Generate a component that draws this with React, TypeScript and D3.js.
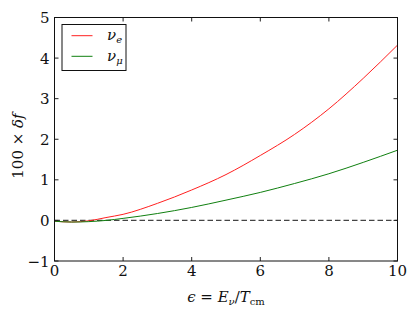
import React from "react";
import * as d3 from "d3";

const xTicks = [0, 2, 4, 6, 8, 10];
const yTicks = [-1, 0, 1, 2, 3, 4, 5];
const eps = [0, 0.5, 1, 1.5, 2, 3, 4, 5, 6, 7, 8, 9, 10];
const nuE = [-0.02, -0.04, -0.01, 0.07, 0.15, 0.42, 0.75, 1.13, 1.6, 2.12, 2.75, 3.5, 4.32];
const nuMu = [-0.02, -0.04, -0.03, 0.0, 0.05, 0.17, 0.32, 0.5, 0.69, 0.91, 1.15, 1.43, 1.73];

const W = 415, H = 312;
const L = 54.5, R = 397.5, T = 17.5, B = 261;
const ff = { fontFamily: "'DejaVu Serif'" };

export default function App() {
  const x = d3.scaleLinear().domain([0, 10]).range([L, R]);
  const y = d3.scaleLinear().domain([-1, 5]).range([B, T]);
  const line = d3.line<number>().x((_, i) => x(eps[i])).y((d) => y(d)).curve(d3.curveMonotoneX);
  return (
    <svg width={W} height={H} style={{ position: "absolute", left: 0, top: 0 }}>
      <rect x={0} y={0} width={W} height={H} fill="white" />
      <line x1={x(0)} x2={x(10)} y1={y(0)} y2={y(0)} stroke="#444" strokeWidth={1.4} strokeDasharray="5.5,3" />
      <path d={line(nuE) || ""} fill="none" stroke="#ff2020" strokeWidth={1} />
      <path d={line(nuMu) || ""} fill="none" stroke="#108010" strokeWidth={1} />
      {xTicks.map((t) => (
        <g key={"x" + t}>
          <line x1={x(t)} x2={x(t)} y1={B} y2={B - 4} stroke="#222" />
          <line x1={x(t)} x2={x(t)} y1={T} y2={T + 4} stroke="#222" />
          <text x={x(t)} y={276} textAnchor="middle" style={ff} fontSize={15} fill="#111">{t}</text>
        </g>
      ))}
      {yTicks.map((t) => (
        <g key={"y" + t}>
          <line x1={L} x2={L + 4} y1={y(t)} y2={y(t)} stroke="#222" />
          <line x1={R} x2={R - 4} y1={y(t)} y2={y(t)} stroke="#222" />
          <text x={49.5} y={y(t) + 5.5} textAnchor="end" style={ff} fontSize={15} fill="#111">{t < 0 ? "\u2212" + Math.abs(t) : t}</text>
        </g>
      ))}
      <rect x={L} y={T} width={R - L} height={B - T} fill="none" stroke="#111" strokeWidth={1} />
      <g>
        <rect x={62} y={24.5} width={64} height={46} fill="white" stroke="#111" strokeWidth={1} />
        <line x1={71.5} x2={92.5} y1={35.7} y2={35.7} stroke="#ff2020" />
        <line x1={71.5} x2={92.5} y1={56.3} y2={56.3} stroke="#108010" />
        <text x={107} y={40} style={ff} fontSize={15} fontStyle="italic" fill="#111">ν<tspan fontSize={10} dy={3}>e</tspan></text>
        <text x={107} y={60.5} style={ff} fontSize={15} fontStyle="italic" fill="#111">ν<tspan fontSize={10} dy={3}>μ</tspan></text>
      </g>
      <text x={226} y={302} textAnchor="middle" style={ff} fontSize={15} fill="#111">
        <tspan fontStyle="italic">ϵ</tspan> = <tspan fontStyle="italic">E</tspan><tspan fontStyle="italic" fontSize={10} dy={3}>ν</tspan><tspan dy={-3}>/</tspan><tspan fontStyle="italic">T</tspan><tspan fontSize={10} dy={3}>cm</tspan>
      </text>
      <text transform="translate(23,146) rotate(-90)" textAnchor="middle" style={ff} fontSize={15} fill="#111">
        100 × <tspan fontStyle="italic">δf</tspan>
      </text>
    </svg>
  );
}
